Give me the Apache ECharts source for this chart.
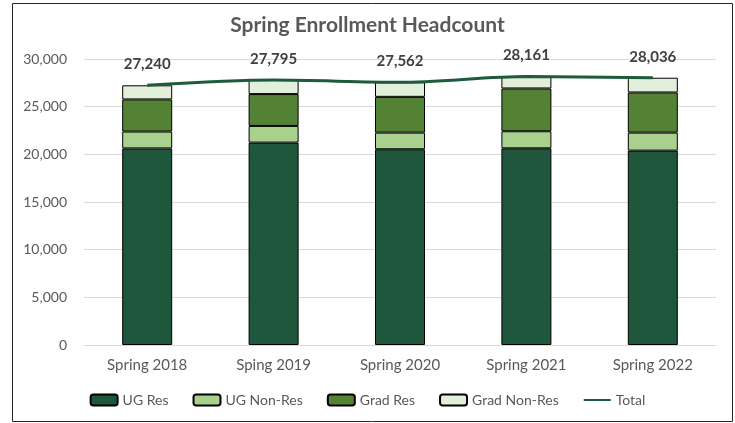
<!DOCTYPE html>
<html>
<head>
<meta charset="utf-8">
<script src="https://cdn.jsdelivr.net/npm/echarts@6/dist/echarts.min.js"></script>
<style>
  html, body { margin: 0; padding: 0; background: #fff; }
  #chart { width: 735px; height: 423px; }
</style>
</head>
<body>
<div id="chart"></div>
<script>
const terms = ["Spring 2018", "Sping 2019", "Spring 2020", "Spring 2021", "Spring 2022"];
const ugRes = [20620, 21230, 20530, 20630, 20390];
const ugNonRes = [1770, 1750, 1750, 1790, 1890];
const gradRes = [3370, 3340, 3750, 4490, 4210];
const gradNonRes = [1480, 1475, 1532, 1251, 1546];
const totals = [27240, 27795, 27562, 28161, 28036];

const font = "Lato, 'Open Sans', sans-serif";
const fmt = (v) => v.toLocaleString("en-US");

// stacked bar helper
function bar(name, data, color) {
  return {
    name: name,
    type: "bar",
    stack: "hc",
    data: data,
    barWidth: 50,
    itemStyle: { color: color, borderColor: "#000", borderWidth: 1 },
  };
}

const chart = echarts.init(document.getElementById("chart"));
chart.setOption({
  animation: false,
  textStyle: { fontFamily: font },
  title: {
    text: "Spring Enrollment Headcount",
    left: "center",
    top: 10,
    textStyle: { fontSize: 21, fontWeight: "bold", color: "#595959", fontFamily: font },
  },
  graphic: [
    {
      type: "rect",
      shape: { x: 12.5, y: 3.5, width: 720, height: 418 },
      style: { fill: "none", stroke: "#262626", lineWidth: 1 },
      silent: true,
    },
  ],
  legend: {
    bottom: 11,
    left: "center",
    itemWidth: 27,
    itemHeight: 11,
    itemGap: 24,
    textStyle: { fontSize: 14, color: "#595959", fontFamily: font },
    data: ["UG Res", "UG Non-Res", "Grad Res", "Grad Non-Res", "Total"],
  },
  grid: { left: 84, right: 19, top: 59, bottom: 78 },
  xAxis: {
    type: "category",
    data: terms,
    axisLine: { lineStyle: { color: "#d9d9d9" } },
    axisTick: { show: false },
    axisLabel: { fontSize: 15, color: "#595959", margin: 13 },
  },
  yAxis: {
    type: "value",
    min: 0,
    max: 30000,
    interval: 5000,
    axisLabel: { fontSize: 14, color: "#595959", margin: 17, formatter: fmt },
    splitLine: { lineStyle: { color: "#d9d9d9" } },
  },
  series: [
    bar("UG Res", ugRes, "#1e573b"),
    bar("UG Non-Res", ugNonRes, "#a9d18e"),
    bar("Grad Res", gradRes, "#548235"),
    bar("Grad Non-Res", gradNonRes, "#e2efda"),
    {
      name: "Total",
      type: "line",
      data: totals,
      smooth: 0.3,
      symbol: "circle",
      symbolSize: 1,
      z: 5,
      lineStyle: { color: "#1e5a3c", width: 3 },
      itemStyle: { color: "rgba(0,0,0,0)" },
      label: {
        show: true,
        position: "top",
        distance: 13,
        fontSize: 15,
        fontWeight: "bold",
        color: "#404040",
        formatter: (p) => fmt(p.value),
      },
    },
  ],
});
</script>
</body>
</html>
